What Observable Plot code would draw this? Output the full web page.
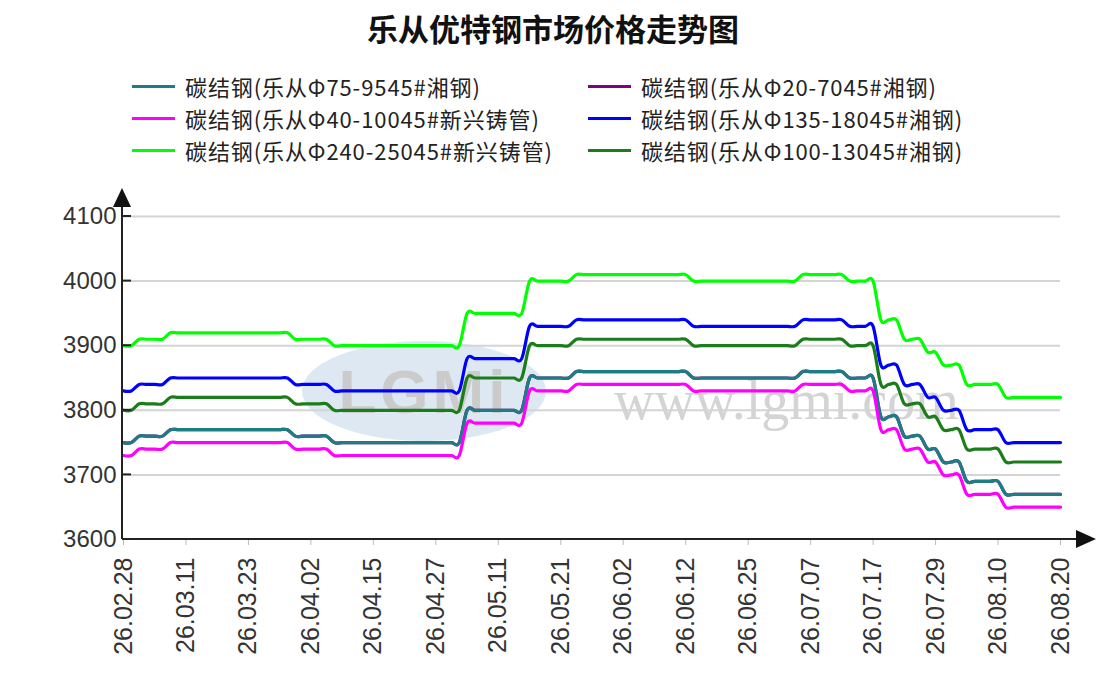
<!DOCTYPE html>
<html>
<head>
<meta charset="utf-8">
<script src="https://cdn.jsdelivr.net/npm/d3@7"></script>
<script src="https://cdn.jsdelivr.net/npm/@observablehq/plot@0.6"></script>
<style>
  html, body { margin: 0; padding: 0; background: #fff; }
  body { width: 1106px; height: 694px; overflow: hidden; font-family: "Noto Sans CJK SC", "Noto Sans", sans-serif; }
  #title { height: 56px; line-height: 56px; text-align: center; font-size: 31px; font-weight: bold; color: #111; }
  #legend { position: relative; height: 114px; }
  .item { position: absolute; height: 32px; display: flex; align-items: center; font-size: 22px; letter-spacing: 0.9px; color: #222; white-space: nowrap; }
  .sw { width: 43px; height: 3px; margin-right: 10px; }
  #chart svg { display: block; }
</style>
</head>
<body>
<div id="title"></div>
<div id="legend"></div>
<div id="chart"></div>
<script>
// ---- data ----
const chartTitle = "乐从优特钢市场价格走势图";
const seriesNames = [
  "碳结钢(乐从Φ75-9545#湘钢)",
  "碳结钢(乐从Φ20-7045#湘钢)",
  "碳结钢(乐从Φ40-10045#新兴铸管)",
  "碳结钢(乐从Φ135-18045#湘钢)",
  "碳结钢(乐从Φ240-25045#新兴铸管)",
  "碳结钢(乐从Φ100-13045#湘钢)"
];
const seriesColors = ["#1c7d84", "#800080", "#ff00ff", "#0000ff", "#00ff00", "#1a7d1a"];
const dateLabels = ["26.02.28","26.03.11","26.03.23","26.04.02","26.04.15","26.04.27","26.05.11","26.05.21",
                    "26.06.02","26.06.12","26.06.25","26.07.07","26.07.17","26.07.29","26.08.10","26.08.20"];
const yTicks = [3600, 3700, 3800, 3900, 4000, 4100];

const phi75 = [3750,3750,
  3760,3760,3760,3760,
  3770,3770,3770,3770, 3770,3770,3770,3770, 3770,3770,3770,3770, 3770,3770,3770,3770,
  3760,3760,3760,3760,3760,
  3750,3750,3750,3750, 3750,3750,3750,3750, 3750,3750,3750,3750, 3750,3750,3750,3750, 3750,
  3800,3800,3800,3800, 3800,3800,3800,3800,
  3850,3850,3850,3850,3850,3850,
  3860,3860,3860,3860,3860, 3860,3860,3860,3860,3860, 3860,3860,3860,3860,3860,
  3850,3850,3850,3850,3850,3850,3850, 3850,3850,3850,3850,3850,3850,3850,
  3860,3860,3860,3860,3860,3860,
  3850,3850,3850,3850,
  3790,3790,3790,
  3760,3760,3760,
  3740,3740,
  3720,3720,3720,
  3690,3690,3690,3690,3690,
  3670,3670,3670,3670,3670,3670,3670,3670];
const phi20 = [3750,3750,
  3760,3760,3760,3760,
  3770,3770,3770,3770, 3770,3770,3770,3770, 3770,3770,3770,3770, 3770,3770,3770,3770,
  3760,3760,3760,3760,3760,
  3750,3750,3750,3750, 3750,3750,3750,3750, 3750,3750,3750,3750, 3750,3750,3750,3750, 3750,
  3800,3800,3800,3800, 3800,3800,3800,3800,
  3850,3850,3850,3850,3850,3850,
  3860,3860,3860,3860,3860, 3860,3860,3860,3860,3860, 3860,3860,3860,3860,3860,
  3850,3850,3850,3850,3850,3850,3850, 3850,3850,3850,3850,3850,3850,3850,
  3860,3860,3860,3860,3860,3860,
  3850,3850,3850,3850,
  3790,3790,3790,
  3760,3760,3760,
  3740,3740,
  3720,3720,3720,
  3690,3690,3690,3690,3690,
  3670,3670,3670,3670,3670,3670,3670,3670];
const phi40 = [3730,3730,
  3740,3740,3740,3740,
  3750,3750,3750,3750, 3750,3750,3750,3750, 3750,3750,3750,3750, 3750,3750,3750,3750,
  3740,3740,3740,3740,3740,
  3730,3730,3730,3730, 3730,3730,3730,3730, 3730,3730,3730,3730, 3730,3730,3730,3730, 3730,
  3780,3780,3780,3780, 3780,3780,3780,3780,
  3830,3830,3830,3830,3830,3830,
  3840,3840,3840,3840,3840, 3840,3840,3840,3840,3840, 3840,3840,3840,3840,3840,
  3830,3830,3830,3830,3830,3830,3830, 3830,3830,3830,3830,3830,3830,3830,
  3840,3840,3840,3840,3840,3840,
  3830,3830,3830,3830,
  3770,3770,3770,
  3740,3740,3740,
  3720,3720,
  3700,3700,3700,
  3670,3670,3670,3670,3670,
  3650,3650,3650,3650,3650,3650,3650,3650];
const phi135 = [3830,3830,
  3840,3840,3840,3840,
  3850,3850,3850,3850, 3850,3850,3850,3850, 3850,3850,3850,3850, 3850,3850,3850,3850,
  3840,3840,3840,3840,3840,
  3830,3830,3830,3830, 3830,3830,3830,3830, 3830,3830,3830,3830, 3830,3830,3830,3830, 3830,
  3880,3880,3880,3880, 3880,3880,3880,3880,
  3930,3930,3930,3930,3930,3930,
  3940,3940,3940,3940,3940, 3940,3940,3940,3940,3940, 3940,3940,3940,3940,3940,
  3930,3930,3930,3930,3930,3930,3930, 3930,3930,3930,3930,3930,3930,3930,
  3940,3940,3940,3940,3940,3940,
  3930,3930,3930,3930,
  3870,3870,3870,
  3840,3840,3840,
  3820,3820,
  3800,3800,3800,
  3770,3770,3770,3770,3770,
  3750,3750,3750,3750,3750,3750,3750,3750];
const phi240 = [3900,3900,
  3910,3910,3910,3910,
  3920,3920,3920,3920, 3920,3920,3920,3920, 3920,3920,3920,3920, 3920,3920,3920,3920,
  3910,3910,3910,3910,3910,
  3900,3900,3900,3900, 3900,3900,3900,3900, 3900,3900,3900,3900, 3900,3900,3900,3900, 3900,
  3950,3950,3950,3950, 3950,3950,3950,3950,
  4000,4000,4000,4000,4000,4000,
  4010,4010,4010,4010,4010, 4010,4010,4010,4010,4010, 4010,4010,4010,4010,4010,
  4000,4000,4000,4000,4000,4000,4000, 4000,4000,4000,4000,4000,4000,4000,
  4010,4010,4010,4010,4010,4010,
  4000,4000,4000,4000,
  3940,3940,3940,
  3910,3910,3910,
  3890,3890,
  3870,3870,3870,
  3840,3840,3840,3840,3840,
  3820,3820,3820,3820,3820,3820,3820,3820];
const phi100 = [3800,3800,
  3810,3810,3810,3810,
  3820,3820,3820,3820, 3820,3820,3820,3820, 3820,3820,3820,3820, 3820,3820,3820,3820,
  3810,3810,3810,3810,3810,
  3800,3800,3800,3800, 3800,3800,3800,3800, 3800,3800,3800,3800, 3800,3800,3800,3800, 3800,
  3850,3850,3850,3850, 3850,3850,3850,3850,
  3900,3900,3900,3900,3900,3900,
  3910,3910,3910,3910,3910, 3910,3910,3910,3910,3910, 3910,3910,3910,3910,3910,
  3900,3900,3900,3900,3900,3900,3900, 3900,3900,3900,3900,3900,3900,3900,
  3910,3910,3910,3910,3910,3910,
  3900,3900,3900,3900,
  3840,3840,3840,
  3810,3810,3810,
  3790,3790,
  3770,3770,3770,
  3740,3740,3740,3740,3740,
  3720,3720,3720,3720,3720,3720,3720,3720];

const seriesValues = [phi75, phi20, phi40, phi135, phi240, phi100];
// every 8th trading day carries a date label
const labelStep = (phi240.length - 1) / (dateLabels.length - 1);
const tickIdx = dateLabels.map((_, k) => k * labelStep);

// ---- header: title + legend ----
document.getElementById("title").textContent = chartTitle;
const legend = document.getElementById("legend");
seriesNames.forEach((name, k) => {
  const col = k % 2, row = Math.floor(k / 2);
  const it = document.createElement("div");
  it.className = "item";
  it.style.left = (col === 0 ? 132 : 588) + "px";
  it.style.top = (14 + row * 32) + "px";
  const sw = document.createElement("div");
  sw.className = "sw";
  sw.style.background = seriesColors[k];
  const tx = document.createElement("span");
  tx.textContent = name;
  it.appendChild(sw); it.appendChild(tx);
  legend.appendChild(it);
});

// ---- chart ----
const drawOrder = [1, 0, 2, 3, 4, 5];
const lineMarks = drawOrder.map(s =>
  Plot.line(seriesValues[s].map((v, i) => ({i, v})), {
    x: "i", y: "v", stroke: seriesColors[s], strokeWidth: 3.2, curve: "cardinal"
  })
);

const chart = Plot.plot({
  width: 1106,
  height: 524,
  marginLeft: 123,
  marginRight: 46,
  marginTop: 46,
  marginBottom: 155,
  style: { fontFamily: "'Liberation Sans', Arial, sans-serif", background: "transparent", overflow: "visible" },
  x: { domain: [0, phi240.length - 1], label: null },
  y: { domain: [yTicks[0], yTicks[yTicks.length - 1]], label: null },
  marks: [
    Plot.gridY(yTicks.slice(1), { stroke: "#d4d4d4", strokeOpacity: 1, strokeWidth: 2 }),
    Plot.axisY({ ticks: yTicks, tickSize: 0, tickPadding: 7, fontSize: 24, fill: "#333", label: null, tickFormat: d => String(d) }),
    Plot.axisX({ ticks: tickIdx, tickFormat: d => dateLabels[Math.round(d / labelStep)], tickRotate: -90, label: null,
                 tickSize: 6, tickPadding: 12, fontSize: 25, stroke: "#bbb", fill: "#333" }),
    ...lineMarks
  ]
});
document.getElementById("chart").appendChild(chart);

// ---- decorations: watermark, axis lines and arrows ----
const sx = chart.scale("x"), sy = chart.scale("y");
const svg = d3.select(chart);
const x0 = sx.apply(0) - 1;
const yBase = sy.apply(yTicks[0]);
const yTop = sy.apply(yTicks[yTicks.length - 1]);
const xEnd = sx.apply(phi240.length - 1);

const wm = svg.insert("g", ":first-child").attr("opacity", 0.5);
wm.append("ellipse").attr("cx", x0 + 302).attr("cy", yBase - 148).attr("rx", 122).attr("ry", 50)
  .attr("fill", "#bcd3e8");
wm.append("text").attr("x", x0 + 302).attr("y", yBase - 126).attr("text-anchor", "middle")
  .attr("font-family", "'Liberation Sans', Arial, sans-serif").attr("font-weight", "bold")
  .attr("font-size", 62).attr("fill", "#999").attr("letter-spacing", 4).text("LGMi");
wm.append("text").attr("x", x0 + 492).attr("y", yBase - 120).attr("text-anchor", "start")
  .attr("font-family", "'Liberation Serif', 'DejaVu Serif', serif")
  .attr("font-size", 56).attr("fill", "#aaa").text("www.lgmi.com");

const deco = svg.append("g");
// y axis line + inside ticks + arrow
deco.append("line").attr("x1", x0).attr("x2", x0).attr("y1", yBase).attr("y2", yTop - 12)
  .attr("stroke", "#222").attr("stroke-width", 2);
yTicks.slice(1).forEach(t => {
  deco.append("line").attr("x1", x0).attr("x2", x0 + 9).attr("y1", sy.apply(t)).attr("y2", sy.apply(t))
    .attr("stroke", "#222").attr("stroke-width", 2);
});
deco.append("path").attr("d", `M${x0},${yTop - 28}L${x0 - 9},${yTop - 9}L${x0 + 9},${yTop - 9}Z`).attr("fill", "#111");
// x axis line + arrow
deco.append("line").attr("x1", x0).attr("x2", xEnd + 18).attr("y1", yBase).attr("y2", yBase)
  .attr("stroke", "#222").attr("stroke-width", 2);
deco.append("path").attr("d", `M${xEnd + 36},${yBase}L${xEnd + 16},${yBase - 9}L${xEnd + 16},${yBase + 9}Z`).attr("fill", "#111");
</script>
</body>
</html>
